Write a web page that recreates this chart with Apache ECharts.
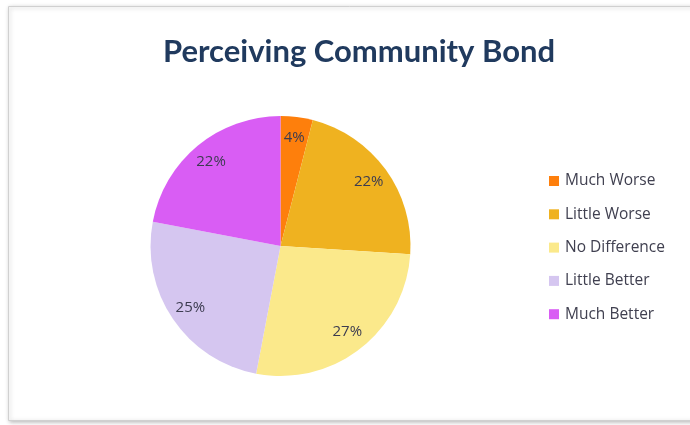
<!DOCTYPE html>
<html><head><meta charset="utf-8">
<script src="https://cdn.jsdelivr.net/npm/echarts@6/dist/echarts.min.js"></script>
<style>html,body{margin:0;padding:0;background:#fff}#c{width:690px;height:425px}</style>
</head><body><div id="c"></div>
<script>
const categories = ['Much Worse','Little Worse','No Difference','Little Better','Much Better'];
const values = [4, 22, 27, 25, 22];
const colors = ['#fe7f0c','#efb220','#fbe98b','#d5c6f0','#d95df4'];
const data = categories.map((n,i)=>({name:n, value:values[i], itemStyle:{color:colors[i]}}));
const chart = echarts.init(document.getElementById('c'), null, {renderer:'canvas'});
chart.setOption({
  backgroundColor:'#fff',
  animation:false,
  graphic:[{type:'rect', shape:{x:8.5,y:6.5,width:700,height:414}, style:{fill:'#fff', stroke:'#d0d0d0', lineWidth:1, shadowBlur:4, shadowColor:'rgba(0,0,0,0.25)', shadowOffsetX:1, shadowOffsetY:1}, z:-10}],
  title:{text:'Perceiving Community Bond', left:354, textAlign:'center', top:31,
    textStyle:{fontFamily:'Lato', fontWeight:'bold', fontSize:31, color:'#203a5e'}},
  legend:{orient:'vertical', left:544, top:167, itemWidth:10, itemHeight:10, itemGap:15.3, icon:'rect',
    data:categories,
    textStyle:{fontFamily:'Open Sans', fontSize:15.5, lineHeight:18, color:'#404050', padding:[0,0,0,1]}},
  series:[
    {type:'pie', center:[280.5,246], radius:[0,130], startAngle:90, clockwise:true, data:data,
     label:{show:false}, labelLine:{show:false}, itemStyle:{borderWidth:0}, emphasis:{disabled:true}},
    {type:'pie', center:[280.5,246], radius:[80,132], startAngle:90, clockwise:true, silent:true,
     data:categories.map((n,i)=>({name:n, value:values[i]})),
     itemStyle:{color:'rgba(0,0,0,0)', borderWidth:0},
     label:{show:true, position:'inside', formatter:'{c}%', fontFamily:'Open Sans', fontSize:15, color:'#3c3c50'},
     labelLine:{show:false}, emphasis:{disabled:true}}
  ]
});
</script></body></html>
